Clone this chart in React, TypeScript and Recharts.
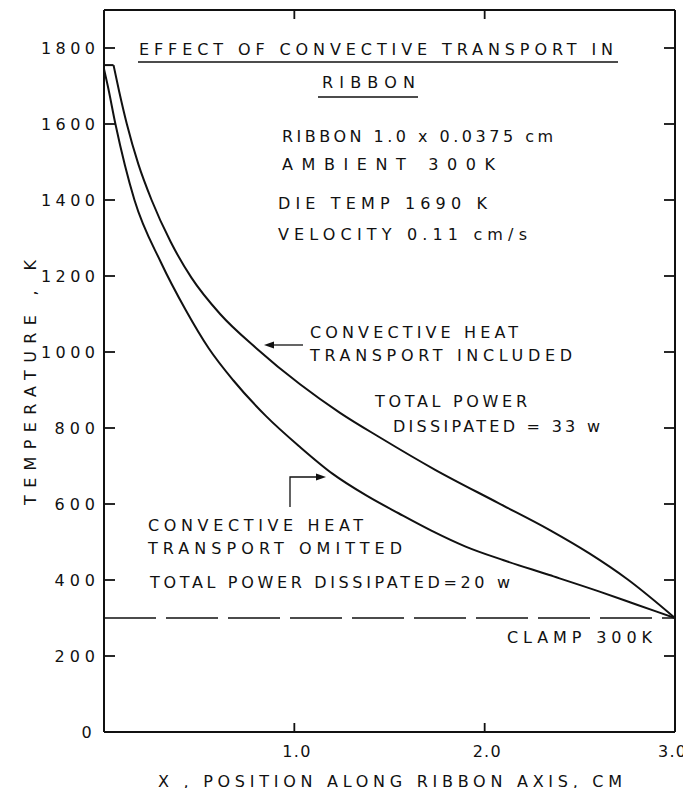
import { LineChart, Line, XAxis, YAxis, ReferenceLine } from "recharts";

// x = position along ribbon axis (cm), T = temperature (K)
const includedX = [0, 0.05, 0.08, 0.12, 0.18, 0.25, 0.35, 0.46, 0.61, 0.8, 1.03, 1.24, 1.45, 1.74, 2.07, 2.34, 2.55, 2.75, 3.0];
const includedT = [1755, 1755, 1685, 1600, 1495, 1400, 1290, 1195, 1100, 1010, 915, 840, 775, 690, 603, 532, 470, 402, 300];

const omittedX = [0, 0.02, 0.06, 0.16, 0.3, 0.43, 0.55, 0.68, 0.85, 1.03, 1.2, 1.38, 1.55, 1.72, 1.9, 2.1, 2.34, 2.6, 2.8, 3.0];
const omittedT = [1745, 1700, 1600, 1400, 1235, 1110, 1010, 925, 832, 750, 680, 622, 575, 530, 488, 452, 413, 370, 335, 300];

const xTicks = [1, 2, 3];
const yTicks = [0, 200, 400, 600, 800, 1000, 1200, 1400, 1600, 1800];
const clampTemp = 300;

const toRows = (xs: number[], ts: number[]) => xs.map((x, i) => ({ x, t: ts[i] }));
const includedRows = toRows(includedX, includedT);
const omittedRows = toRows(omittedX, omittedT);

const FONT = "'DejaVu Sans', sans-serif";
const INK = "#111";

// annotation text, page coords (x, baseline y, stretched length)
const notes: [string, number, number, number][] = [
  ["EFFECT OF CONVECTIVE TRANSPORT IN", 139, 55, 474],
  ["RIBBON", 322, 88, 93],
  ["RIBBON 1.0 x 0.0375 cm", 282, 142, 271],
  ["AMBIENT 300K", 282, 170, 213],
  ["DIE TEMP 1690 K", 278, 209, 209],
  ["VELOCITY 0.11 cm/s", 278, 240, 249],
  ["CONVECTIVE HEAT", 310, 338, 208],
  ["TRANSPORT INCLUDED", 310, 361, 262],
  ["TOTAL POWER", 375, 407, 152],
  ["DISSIPATED = 33 w", 393, 432, 207],
  ["CONVECTIVE HEAT", 148, 531, 215],
  ["TRANSPORT OMITTED", 148, 554, 254],
  ["TOTAL POWER DISSIPATED=20 w", 150, 588, 360],
  ["CLAMP 300K", 507, 643, 145],
  ["X , POSITION ALONG RIBBON AXIS, CM", 158, 787, 464],
];

// chart box: 780 high so the page (8px margins) fits the 796px window without scrolling
const W = 683;
const H = 780;

const labelProps = { fill: INK, fontSize: 16, fontFamily: FONT, lengthAdjust: "spacing" as const };

function LeftTick(props: any) {
  const { x, y, payload } = props;
  const s = String(payload.value);
  const len = s.length * 13.5;
  return (
    <g>
      <line x1={x} y1={y} x2={x + 11} y2={y} stroke={INK} strokeWidth={1.8} />
      <text x={x - 9 - len} y={y + 6} textLength={len} {...labelProps}>
        {s}
      </text>
    </g>
  );
}

function RightTick(props: any) {
  const { x, y } = props;
  return <line x1={x} y1={y} x2={x - 11} y2={y} stroke={INK} strokeWidth={1.8} />;
}

function BottomTick(props: any) {
  const { x, y, payload } = props;
  const s = Number(payload.value).toFixed(1);
  return (
    <g>
      <line x1={x} y1={y} x2={x} y2={y - 9} stroke={INK} strokeWidth={1.8} />
      <text x={Math.min(x - 12, 650)} y={y + 25} textLength={28} {...labelProps}>
        {s}
      </text>
    </g>
  );
}

function TopTick(props: any) {
  const { x, y } = props;
  return <line x1={x} y1={y} x2={x} y2={y + 9} stroke={INK} strokeWidth={1.8} />;
}

export default function App() {
  return (
    <div style={{ position: "relative", width: W, height: H, marginRight: -8, background: "#fff" }}>
      <LineChart width={W} height={H} margin={{ top: 1, right: 15, bottom: 0, left: 0 }}>
        <XAxis xAxisId="b" type="number" dataKey="x" domain={[0, 3]} ticks={xTicks} height={56}
          stroke={INK} strokeWidth={2} tickLine={false} tickSize={0} tickMargin={0} tick={BottomTick} allowDataOverflow />
        <XAxis xAxisId="t" orientation="top" type="number" dataKey="x" domain={[0, 3]} ticks={xTicks.slice(0, 2)} height={1}
          stroke={INK} strokeWidth={2} tickLine={false} tickSize={0} tickMargin={0} tick={TopTick} allowDataOverflow />
        <YAxis yAxisId="l" type="number" domain={[0, 1900]} ticks={yTicks} width={96}
          stroke={INK} strokeWidth={2} tickLine={false} tickSize={0} tickMargin={0} tick={LeftTick} allowDataOverflow />
        <YAxis yAxisId="r" orientation="right" type="number" domain={[0, 1900]} ticks={yTicks.slice(1)} width={1}
          stroke={INK} strokeWidth={2} tickLine={false} tickSize={0} tickMargin={0} tick={RightTick} allowDataOverflow />
        <ReferenceLine xAxisId="b" yAxisId="l" y={clampTemp} stroke={INK} strokeWidth={1.6} strokeDasharray="52 10" />
        {/* flat top of the "included" curve, then the smooth decay */}
        <Line xAxisId="b" yAxisId="l" data={includedRows.slice(0, 2)} dataKey="t" type="linear"
          stroke={INK} strokeWidth={2} dot={false} isAnimationActive={false} />
        <Line xAxisId="b" yAxisId="l" data={includedRows.slice(1)} dataKey="t" type="monotone"
          stroke={INK} strokeWidth={2} dot={false} isAnimationActive={false} />
        <Line xAxisId="b" yAxisId="l" data={omittedRows} dataKey="t" type="monotone"
          stroke={INK} strokeWidth={2} dot={false} isAnimationActive={false} />
      </LineChart>

      <svg width={W} height={H} style={{ position: "absolute", left: 0, top: 0, pointerEvents: "none", overflow: "visible" }}>
        <g transform="translate(-8,-8)" fill={INK} fontFamily={FONT} fontSize={16}>
          {notes.map(([txt, x, y, len], i) => (
            <text key={i} x={x} y={y} textLength={len} lengthAdjust="spacing">
              {txt}
            </text>
          ))}
          <text x={-122} y={0} textLength={245} lengthAdjust="spacing" transform="translate(36,383) rotate(-90)">
            TEMPERATURE , K
          </text>
          {/* underlines */}
          <line x1={138} y1={62} x2={618} y2={62} stroke={INK} strokeWidth={1.5} />
          <line x1={318} y1={97} x2={418} y2={97} stroke={INK} strokeWidth={1.5} />
          {/* arrow to included curve */}
          <line x1={303} y1={345} x2={272} y2={345} stroke={INK} strokeWidth={1.3} />
          <polygon points="264,345 274,341.5 274,348.5" />
          {/* bent arrow to omitted curve */}
          <polyline points="290,507 290,477 318,477" fill="none" stroke={INK} strokeWidth={1.3} />
          <polygon points="326,477 316,473.5 316,480.5" />
        </g>
      </svg>
    </div>
  );
}
